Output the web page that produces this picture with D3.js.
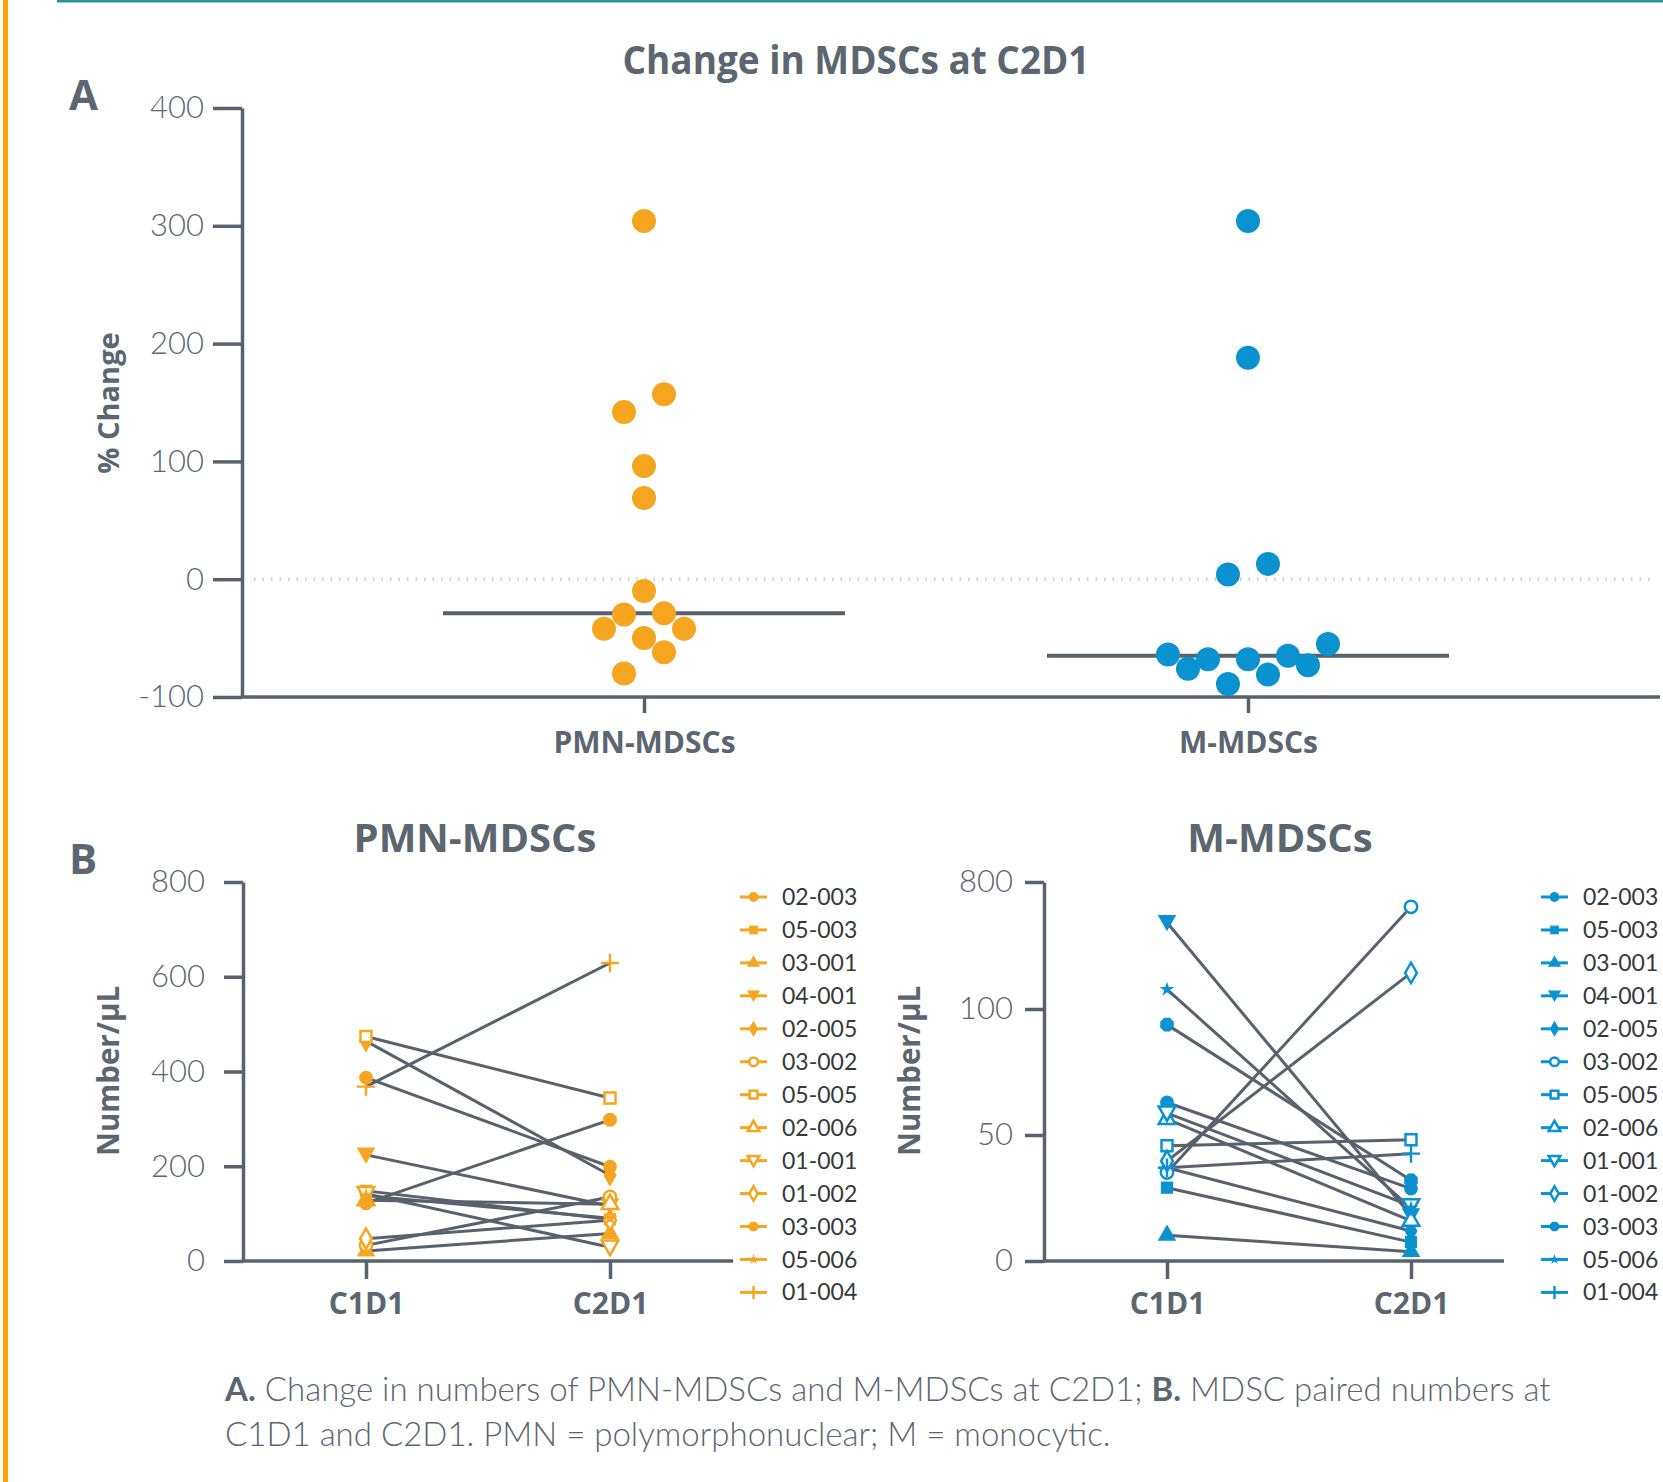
<!DOCTYPE html>
<html>
<head>
<meta charset="utf-8">
<script src="https://cdn.jsdelivr.net/npm/d3@7"></script>
<style>
body { margin: 0; background: #fff; }
svg { display: block; }
</style>
</head>
<body>
<div id="chart"></div>
<script>
// panel A: % change at C2D1
var groups = ["PMN-MDSCs", "M-MDSCs"];
var pmnChange = [304, 157, 142, 96, 69, -10, -29, -30, -42, -42, -50, -62, -80];
var mChange = [304, 188, 13, 4, -55, -64, -65, -68, -68, -73, -76, -81, -89];
var changeTicks = [-100, 0, 100, 200, 300, 400];

// panel B: paired numbers
var visits = ["C1D1", "C2D1"];
var patients = ["02-003", "05-003", "03-001", "04-001", "02-005", "03-002", "05-005",
                "02-006", "01-001", "01-002", "03-003", "05-006", "01-004"];
var pmnC1D1 = [387, 148, 21, 224, 464, 33, 474, 128, 142, 47, 122, 138, 368];
var pmnC2D1 = [199, 88, 58, 116, 181, 135, 344, 120, 29, 86, 298, 90, 629];
var mC1D1 = [62.9, 29.1, 10.2, 577, 37, 35.1, 45.7, 56.3, 58.7, 39.7, 93.8, 208, 37];
var mC2D1 = [28.7, 7.5, 3.7, 18, 11.9, 663, 48.1, 15.9, 21.9, 299, 32, 21, 42.6];
var pmnTicks = [0, 200, 400, 600, 800];
var mTicks = [0, 50, 100, 800];

var W = 1663, H = 1482;
var orange = "#F5A51F", blue = "#0B93D1";
var axisColor = "#57626c", textColor = "#5b6670";
var boldFont = "'Open Sans', sans-serif";
var lightFont = "Lato, sans-serif";

var svg = d3.select("#chart").append("svg")
    .attr("width", W)
    .attr("height", H);

// page decoration
svg.append("rect").attr("x", 3).attr("y", 0).attr("width", 5).attr("height", H).attr("fill", "#F7A800");
svg.append("rect").attr("x", 57).attr("y", 0).attr("width", W - 57).attr("height", 2.5).attr("fill", "#2497a5");

function styleAxis(g, fontSize) {
    g.select(".domain").attr("stroke", axisColor).attr("stroke-width", 3.5);
    g.selectAll(".tick line").attr("stroke", axisColor).attr("stroke-width", 3.5);
    g.selectAll(".tick text")
        .attr("fill", textColor)
        .style("font-family", lightFont)
        .style("font-weight", 300)
        .style("font-size", fontSize + "px");
}

function boldText(x, y, txt, size, anchor) {
    return svg.append("text")
        .attr("x", x).attr("y", y)
        .attr("text-anchor", anchor || "middle")
        .attr("fill", textColor)
        .style("font-family", boldFont)
        .style("font-weight", 700)
        .style("font-size", size + "px")
        .text(txt);
}

// ---------- Panel A ----------
var yA = d3.scaleLinear().domain([-100, 400]).range([697, 108]);
var xA = d3.scalePoint().domain(groups).range([242, 1650]).padding(0.6656);

boldText(856, 74, "Change in MDSCs at C2D1", 40)
    .attr("textLength", 467).attr("lengthAdjust", "spacingAndGlyphs");
boldText(69, 110, "A", 42, "start");

svg.append("line")
    .attr("x1", 254).attr("x2", 1655)
    .attr("y1", yA(0)).attr("y2", yA(0))
    .attr("stroke", "#cfd3d6").attr("stroke-width", 4)
    .attr("stroke-dasharray", "1.5,7");

var gyA = svg.append("g").attr("transform", "translate(242,0)")
    .call(d3.axisLeft(yA).tickValues(changeTicks).tickFormat(function(d) { return d; })
        .tickSize(29).tickSizeOuter(0).tickPadding(9));
styleAxis(gyA, 31);

var gxA = svg.append("g").attr("transform", "translate(0,697)")
    .call(d3.axisBottom(xA).tickSize(16).tickSizeOuter(0).tickPadding(19));
gxA.select(".domain").attr("d", "M242,0H1660");
styleAxis(gxA, 30);
gxA.selectAll(".tick text")
    .style("font-family", boldFont).style("font-weight", 700).style("font-size", "30px");

svg.append("text")
    .attr("transform", "translate(119,403) rotate(-90)")
    .attr("text-anchor", "middle")
    .attr("fill", textColor)
    .style("font-family", boldFont).style("font-weight", 700).style("font-size", "29px")
    .text("% Change");

// row-binned dot layout: values close together share a row and are spread
// symmetrically around the category centre
function swarm(values, cx, y, step, rowHeight) {
    var order = d3.range(values.length).sort(function(a, b) { return values[a] - values[b]; });
    var rows = [];
    order.forEach(function(i) {
        var row = rows[rows.length - 1];
        if (!row || values[i] - values[row[0]] > rowHeight) rows.push([i]);
        else row.push(i);
    });
    var out = [];
    rows.forEach(function(row) {
        var n = row.length;
        var slots = [];
        for (var k = n - 1; k > 0; k -= 2) slots.push(k, -k);
        if (n % 2) slots.push(0);
        row.slice().reverse().forEach(function(i, j) {
            out[i] = {x: cx + slots[j] * step, y: y(values[i])};
        });
    });
    return out;
}

[[pmnChange, orange], [mChange, blue]].forEach(function(s, gi) {
    var cx = xA(groups[gi]);
    var med = d3.median(s[0]);
    svg.append("line")
        .attr("x1", cx - 201).attr("x2", cx + 201)
        .attr("y1", yA(med)).attr("y2", yA(med))
        .attr("stroke", axisColor).attr("stroke-width", 4);
    svg.append("g").selectAll("circle")
        .data(swarm(s[0], cx, yA, 20, 19))
        .enter()
        .append("circle")
        .attr("cx", function(d) { return d.x; })
        .attr("cy", function(d) { return d.y; })
        .attr("r", 12)
        .attr("fill", s[1]);
});

// ---------- Panel B ----------
// marker shapes per patient (legend order)
var plusSym = {
    draw: function(ctx, size) {
        var r = Math.sqrt(size) * 0.75;
        ctx.moveTo(-r, -1.2); ctx.lineTo(-1.2, -1.2); ctx.lineTo(-1.2, -r); ctx.lineTo(1.2, -r);
        ctx.lineTo(1.2, -1.2); ctx.lineTo(r, -1.2); ctx.lineTo(r, 1.2); ctx.lineTo(1.2, 1.2);
        ctx.lineTo(1.2, r); ctx.lineTo(-1.2, r); ctx.lineTo(-1.2, 1.2); ctx.lineTo(-r, 1.2); ctx.closePath();
    }
};
var octSym = {
    draw: function(ctx, size) {
        var r = Math.sqrt(size) * 0.6;
        for (var i = 0; i < 8; i++) {
            var a = Math.PI / 8 + i * Math.PI / 4;
            if (i === 0) ctx.moveTo(r * Math.cos(a), r * Math.sin(a));
            else ctx.lineTo(r * Math.cos(a), r * Math.sin(a));
        }
        ctx.closePath();
    }
};
var triDown = {
    draw: function(ctx, size) {
        var h = Math.sqrt(size / (Math.sqrt(3) / 4)) / 2;
        ctx.moveTo(-h, -h * 0.8); ctx.lineTo(h, -h * 0.8); ctx.lineTo(0, h * 0.95); ctx.closePath();
    }
};
var markers = [
    {type: d3.symbolCircle, fill: true},
    {type: d3.symbolSquare, fill: true},
    {type: d3.symbolTriangle, fill: true},
    {type: triDown, fill: true},
    {type: d3.symbolDiamond, fill: true},
    {type: d3.symbolCircle, fill: false},
    {type: d3.symbolSquare, fill: false},
    {type: d3.symbolTriangle, fill: false},
    {type: triDown, fill: false},
    {type: d3.symbolDiamond, fill: false},
    {type: octSym, fill: true},
    {type: d3.symbolStar, fill: true, small: true},
    {type: plusSym, fill: true}
];

function drawMarker(g, i, x, y, color, size) {
    var m = markers[i];
    var sz = m.small ? size * 0.45 : (m.fill ? size : size * 0.8);
    g.append("path")
        .attr("transform", "translate(" + x + "," + y + ")")
        .attr("d", d3.symbol().type(m.type).size(sz)())
        .attr("fill", m.fill ? color : "#fff")
        .attr("stroke", m.fill ? "none" : color)
        .attr("stroke-width", m.fill ? 0 : 2.5);
}

function pairedPanel(opt) {
    var x = d3.scalePoint().domain(visits).range(opt.xRange);
    var y = opt.y;

    boldText((opt.xRange[0] + opt.xRange[1]) / 2 + opt.titleShift, 852, opt.title, 40);

    var gy = svg.append("g").attr("transform", "translate(" + opt.axisX + ",0)")
        .call(d3.axisLeft(y).tickValues(opt.ticks).tickSize(19).tickSizeOuter(0).tickPadding(opt.labelPad));
    styleAxis(gy, 31);

    var gx = svg.append("g").attr("transform", "translate(0,1261)")
        .call(d3.axisBottom(x).tickSize(18).tickSizeOuter(0).tickPadding(14));
    gx.select(".domain").attr("d", "M" + opt.axisX + ",0H" + opt.axisEnd);
    styleAxis(gx, 30);
    gx.selectAll(".tick text")
        .style("font-family", boldFont).style("font-weight", 700).style("font-size", "30px");

    svg.append("text")
        .attr("transform", "translate(" + (opt.axisX - 124) + ",1071) rotate(-90)")
        .attr("text-anchor", "middle")
        .attr("fill", textColor)
        .style("font-family", boldFont).style("font-weight", 700).style("font-size", "29.5px")
        .text("Number/\u03bcL");

    var lines = svg.append("g");
    var marks = svg.append("g");
    patients.forEach(function(p, i) {
        lines.append("line")
            .attr("x1", x("C1D1")).attr("y1", y(opt.c1[i]))
            .attr("x2", x("C2D1")).attr("y2", y(opt.c2[i]))
            .attr("stroke", axisColor).attr("stroke-width", 3);
    });
    patients.forEach(function(p, i) {
        drawMarker(marks, i, x("C1D1"), y(opt.c1[i]), opt.color, 150);
        drawMarker(marks, i, x("C2D1"), y(opt.c2[i]), opt.color, 150);
    });

    // legend
    var leg = svg.append("g");
    patients.forEach(function(p, i) {
        var ly = 897 + i * 32.95;
        leg.append("line")
            .attr("x1", opt.legX).attr("x2", opt.legX + 27)
            .attr("y1", ly).attr("y2", ly)
            .attr("stroke", opt.color).attr("stroke-width", 3);
        drawMarker(leg, i, opt.legX + 13.5, ly, opt.color, 75);
        leg.append("text")
            .attr("x", opt.legX + 42).attr("y", ly)
            .attr("dy", "0.35em")
            .attr("fill", "#36393c")
            .style("font-family", lightFont)
            .style("font-weight", 400)
            .style("font-size", "23px")
            .text(p);
    });
}

boldText(69, 874, "B", 42, "start");

pairedPanel({
    title: "PMN-MDSCs", titleShift: -13,
    xRange: [366, 610], axisX: 243, axisEnd: 733, labelPad: 19,
    y: d3.scaleLinear().domain([0, 800]).range([1261, 882]),
    ticks: pmnTicks, c1: pmnC1D1, c2: pmnC2D1, color: orange, legX: 740
});

pairedPanel({
    title: "M-MDSCs", titleShift: -9,
    xRange: [1167, 1411], axisX: 1044, axisEnd: 1504, labelPad: 12,
    y: d3.scaleLinear().domain([0, 100, 800]).range([1261, 1009, 882]),
    ticks: mTicks, c1: mC1D1, c2: mC2D1, color: blue, legX: 1541
});

// caption
var cap = svg.append("text")
    .attr("fill", textColor)
    .style("font-family", lightFont)
    .style("font-weight", 300)
    .style("font-size", "33px");
var l1 = cap.append("tspan").attr("x", 225).attr("y", 1401);
l1.append("tspan").style("font-weight", 700).text("A.");
l1.append("tspan").text(" Change in numbers of PMN-MDSCs and M-MDSCs at C2D1; ");
l1.append("tspan").style("font-weight", 700).text("B.");
l1.append("tspan").text(" MDSC paired numbers at");
cap.append("tspan").attr("x", 225).attr("y", 1446)
    .text("C1D1 and C2D1. PMN = polymorphonuclear; M = monocytic.");
</script>
</body>
</html>
